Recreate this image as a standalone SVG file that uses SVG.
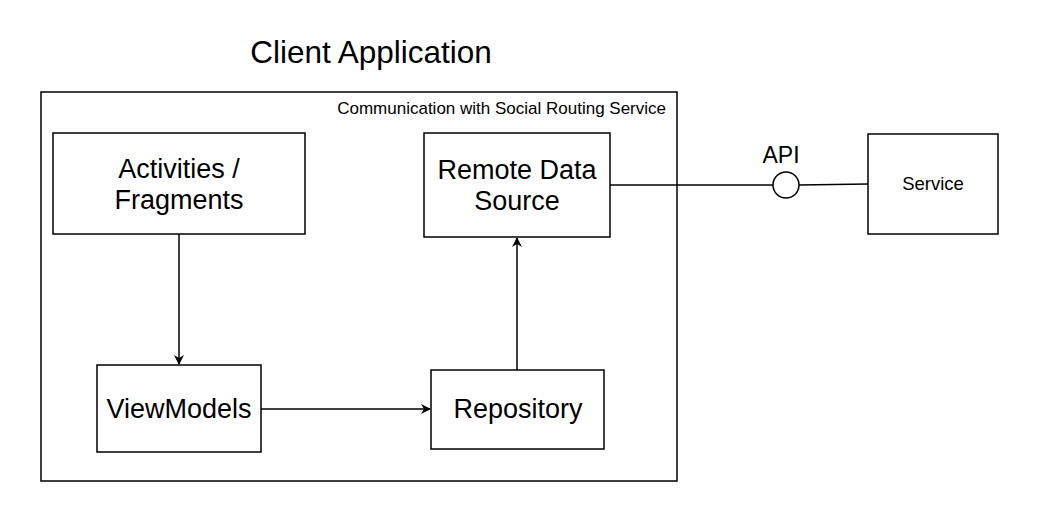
<svg xmlns="http://www.w3.org/2000/svg" width="1039" height="531" viewBox="0 0 1039 531">
<style>
.box{fill:#fff;stroke:#000;stroke-width:1.5}
.t{font-family:"Liberation Sans",Arial,sans-serif;fill:#000;text-anchor:middle}
.big{font-size:27px}
.ln{fill:none;stroke:#000;stroke-width:1.5}
</style>
<defs>
<marker id="arr" viewBox="0 0 10 10" refX="9" refY="5" markerWidth="10" markerHeight="10" markerUnits="userSpaceOnUse" orient="auto">
<path d="M0,0 L10,5 L0,10 L3,5 Z" fill="#000"/>
</marker>
</defs>
<rect width="1039" height="531" fill="#fff"/>
<text class="t" x="371" y="63" font-size="31.5">Client Application</text>
<g id="container">
<rect class="box" x="41" y="92" width="636" height="389"/>
<text class="t" x="666" y="114" font-size="17" style="text-anchor:end">Communication with Social Routing Service</text>
</g>
<g id="connectors">
<line class="ln" x1="179" y1="234" x2="179" y2="364" marker-end="url(#arr)"/>
<line class="ln" x1="261" y1="409" x2="430" y2="409" marker-end="url(#arr)"/>
<line class="ln" x1="517" y1="370" x2="517" y2="238" marker-end="url(#arr)"/>
<line class="ln" x1="610" y1="185" x2="773" y2="185"/>
<line class="ln" x1="799" y1="185" x2="868" y2="184"/>
</g>
<g id="activities">
<rect class="box" x="53" y="133" width="252" height="101"/>
<text class="t big" x="179" y="178">Activities /</text>
<text class="t big" x="179" y="209">Fragments</text>
</g>
<g id="remote">
<rect class="box" x="424" y="133" width="186" height="104"/>
<text class="t big" x="517" y="179">Remote Data</text>
<text class="t big" x="517" y="210">Source</text>
</g>
<g id="viewmodels">
<rect class="box" x="97" y="365" width="164" height="87"/>
<text class="t big" x="179" y="418">ViewModels</text>
</g>
<g id="repository">
<rect class="box" x="431" y="370" width="173" height="79"/>
<text class="t big" x="518" y="418">Repository</text>
</g>
<g id="api">
<circle cx="786" cy="185" r="13" fill="#fff" stroke="#000" stroke-width="1.5"/>
<text class="t" x="781" y="163" font-size="23">API</text>
</g>
<g id="service">
<rect class="box" x="868" y="134" width="130" height="100"/>
<text class="t" x="933" y="190" font-size="18.5">Service</text>
</g>
</svg>
